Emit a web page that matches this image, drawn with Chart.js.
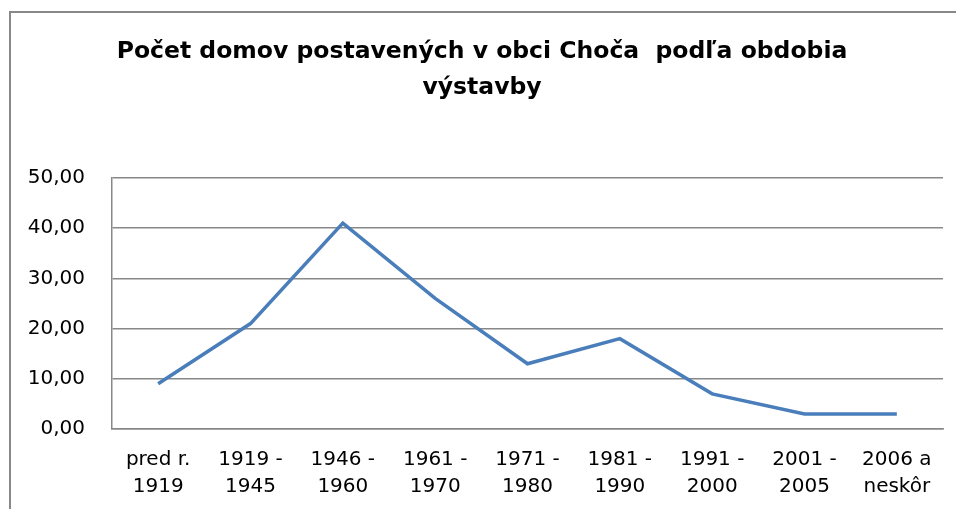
<!DOCTYPE html>
<html>
<head>
<meta charset="utf-8">
<script src="https://cdn.jsdelivr.net/npm/chart.js@4/dist/chart.umd.min.js"></script>
<style>
    html, body { margin: 0; padding: 0; background: #fff; }
    #wrap { position: relative; width: 956px; height: 509px; overflow: hidden; }
    #ram { position: absolute; left: 9px; top: 11px; width: 1000px; height: 600px;
           border-left: 2px solid #888; border-top: 2px solid #888; pointer-events: none; }
</style>
</head>
<body>
<div id="wrap">
    <canvas id="chart" width="956" height="509"></canvas>
    <div id="ram"></div>
</div>
<script>
// Údaje z grafu
const obdobia = [
    ['pred r.', '1919'],
    ['1919 -', '1945'],
    ['1946 -', '1960'],
    ['1961 -', '1970'],
    ['1971 -', '1980'],
    ['1981 -', '1990'],
    ['1991 -', '2000'],
    ['2001 -', '2005'],
    ['2006 a', 'neskôr'],
];
const pocetDomov = [9, 21, 41, 26, 13, 18, 7, 3, 3];
const yZnacky = ['0,00', '10,00', '20,00', '30,00', '40,00', '50,00'];

const sivaMriezka = '#888888';

const ctx = document.getElementById('chart').getContext('2d');
const chart = new Chart(ctx, {
    type: 'line',
    data: {
        labels: obdobia,
        datasets: [{
            label: 'Počet domov',
            data: pocetDomov,
            borderColor: '#4a7ebb',
            borderWidth: 3.5,
            pointRadius: 0,
            tension: 0,
            fill: false,
        }],
    },
    options: {
        responsive: false,
        animation: false,
        layout: {
            padding: { left: 21, right: 13, top: 0, bottom: 0 },
        },
        plugins: {
            legend: { display: false },
            tooltip: { enabled: false },
            title: {
                display: true,
                text: ['Počet domov postavených v obci Choča  podľa obdobia', 'výstavby'],
                color: '#000',
                font: { family: 'DejaVu Sans', size: 23.5, weight: 'bold', lineHeight: '36px' },
                padding: { top: 34, bottom: 72 },
            },
        },
        scales: {
            x: {
                offset: true,
                grid: { display: false, drawTicks: false },
                border: { display: true, color: sivaMriezka, width: 1.5 },
                ticks: {
                    color: '#000',
                    font: { family: 'DejaVu Sans', size: 20, lineHeight: '27px' },
                    padding: 17,
                    maxRotation: 0,
                    autoSkip: false,
                },
                afterFit: (scale) => { scale.height = 80; },
            },
            y: {
                min: 0,
                max: 50,
                grid: { color: sivaMriezka, lineWidth: 1.5, drawTicks: false },
                border: { display: true, color: sivaMriezka, width: 1.5 },
                ticks: {
                    stepSize: 10,
                    color: '#000',
                    font: { family: 'DejaVu Sans', size: 20 },
                    padding: 27,
                    callback: (value, i) => yZnacky[i],
                },
                afterFit: (scale) => { scale.width = 91; },
            },
        },
    },
});
</script>
</body>
</html>
